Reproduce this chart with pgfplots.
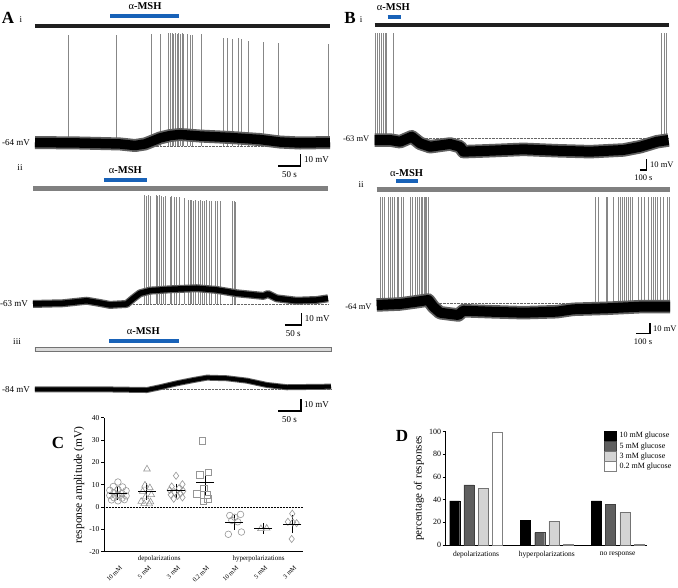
\documentclass[border=0pt]{standalone}
\usepackage{fontspec}
\setmainfont{Liberation Serif}
\usepackage{pgfplots}
\pgfplotsset{compat=1.18}
\definecolor{msh}{RGB}{24,98,184}
\definecolor{gbar}{RGB}{128,128,128}
\definecolor{lbar}{RGB}{217,217,217}
\definecolor{spk}{RGB}{135,135,135}
\definecolor{mk}{RGB}{150,150,150}
\definecolor{g5}{RGB}{95,95,95}
\definecolor{g3}{RGB}{212,212,212}
\newcommand{\fs}[1]{\fontsize{#1}{#1}\selectfont}

\pgfplotsset{
  trace/.style={scale only axis, hide axis, clip=false, anchor=south west},
  spike/.style={spk, line width=0.45pt},
  core/.style={black, line join=round},
  fringe/.style={black!62, line join=round},
  scalebar/.style={black, line width=1.1pt},
  mshbar/.style={msh, line width=4pt},
  dotbase/.style={black!60, densely dotted, line width=0.4pt},
}

% membrane potential traces: time (s), potential (mV)
\pgfplotstableread{
t V
0 -61.1
99 -61.5
187 -62.3
220 -63.6
242 -62.3
253 -60.7
275 -57.3
297 -55.3
319 -54.4
363 -55.7
429 -56.9
495 -58.6
539 -60.7
583 -61.5
649 -61.1
}\traceAi
\pgfplotstableread{
t V
0 -63
90 -62.4
161 -60.3
201 -62.2
231 -63.8
281 -63
301 -58.3
321 -54.1
351 -51.9
411 -50.8
491 -49.9
551 -51.3
611 -54.1
691 -56.3
705 -54.7
731 -58.3
791 -60.3
851 -59.7
885 -58.3
}\traceAii
\pgfplotstableread{
t V
0 -84
143 -84
246 -84.6
275 -82.3
312 -79
348 -76.3
378 -74.3
422 -74.8
466 -76.8
510 -80.4
554 -82.3
651 -81.8
}\traceAiii
\pgfplotstableread{
t V
0 -64.6
222 -64.6
365 -66.2
532 -61.5
651 -67.7
794 -70.9
1080 -68.3
1223 -70.9
1270 -75.5
1652 -74.6
2128 -73.3
2605 -74.6
3082 -75.5
3558 -73.9
3797 -70.9
4035 -66.2
4200 -64.6
}\traceBi
\pgfplotstableread{
t V
0 -65.7
166 -64.7
286 -62.4
368 -60.7
404 -67.4
452 -73.4
523 -74.7
583 -75.7
618 -71.4
809 -72.4
1047 -73.4
1285 -72.4
1404 -70
1642 -69
1880 -67.4
2094 -67.4
}\traceBii

\begin{document}
\begin{tikzpicture}
\useasboundingbox (0pt,0pt) rectangle (678pt,-588pt);

% panel letters
\node[font=\fs{17}\bfseries] at (8pt,-18pt) {A};
\node[font=\fs{9}] at (21pt,-20pt) {i};
\node[font=\fs{9}] at (20pt,-168pt) {ii};
\node[font=\fs{9}] at (17pt,-342pt) {iii};
\node[font=\fs{17}\bfseries] at (350pt,-18pt) {B};
\node[font=\fs{9}] at (361pt,-20pt) {i};
\node[font=\fs{9}] at (361pt,-185pt) {ii};
\node[font=\fs{17}\bfseries] at (58pt,-443pt) {C};
\node[font=\fs{17}\bfseries] at (402pt,-436pt) {D};

% ---------- A i ----------
\begin{axis}[trace, at={(35pt,-158pt)}, width=295pt, height=128pt,
  xmin=0, xmax=649, ymin=-74, ymax=32.7]
\addplot[black!88, line width=4pt] coordinates {(0,35.75) (649,35.75)};
\addplot[mshbar] coordinates {(165,44.3) (317,44.3)};
\node[font=\fs{10.5}] at (axis cs:242,52.7) {α\textbf{-MSH}};
\addplot[dotbase] coordinates {(250,-64) (649,-64)};
\addplot[spike, quiver={u=0, v=\thisrow{top}+64}] table[x=t, y expr=-64] {
t top
72 28.5
178 28.5
255 29.3
275 29.3
292 30.2
297 30.2
301 30.2
304 29.3
308 30.2
312 29.3
315 30.2
319 29.3
323 30.2
326 29.3
334 29.3
341 28.5
346 28.5
365 29.3
414 26
423 26
433 25.2
447 26
453 25.2
469 23.5
501 22.7
535 21.8
644 21
};
\addplot[fringe, line width=13pt] table {\traceAi};
\addplot[core, line width=9.5pt] table {\traceAi};
\addplot[scalebar] coordinates {(535,-80.7) (585,-80.7) (585,-70.7)};
\node[anchor=west, font=\fs{9}, inner sep=0pt, xshift=3pt] at (axis cs:585,-75.7) {10 mV};
\node[anchor=north, font=\fs{9}, inner sep=0pt, yshift=-5pt] at (axis cs:560,-80.7) {50 s};
\node[anchor=east, font=\fs{9}, inner sep=0pt, xshift=-5pt] at (axis cs:0,-61.5) {-64 mV};
\end{axis}

% ---------- A ii ----------
\begin{axis}[trace, at={(33pt,-312pt)}, width=295pt, height=120pt,
  xmin=0, xmax=885, ymin=-69.7, ymax=30.3]
\addplot[gbar, line width=4.3pt] coordinates {(0,33.25) (885,33.25)};
\addplot[mshbar] coordinates {(213,39.9) (341,39.9)};
\node[font=\fs{10.5}] at (axis cs:277,48.3) {α\textbf{-MSH}};
\addplot[dotbase] coordinates {(300,-63) (885,-63)};
\addplot[spike, quiver={u=0, v=\thisrow{top}+63}] table[x=t, y expr=-63] {
t top
334 27.5
339 27
346 27.5
353 27
369 27.5
374 27
379 27.5
384 27
391 26.5
396 27
411 26.5
416 27
423 26.5
431 26
438 26
453 25.5
467 23.7
471 23.7
476 23.7
481 23.2
488 23.7
496 23.2
503 23.7
509 23.2
514 23.2
521 23.7
528 22.8
536 22.8
546 22.8
553 22.8
563 22.8
599 22.8
603 22.8
608 22.3
};
\addplot[fringe, line width=8pt] table {\traceAii};
\addplot[core, line width=5.5pt] table {\traceAii};
\addplot[scalebar] coordinates {(756,-80.5) (806,-80.5) (806,-70.5)};
\node[anchor=west, font=\fs{9}, inner sep=0pt, xshift=3pt] at (axis cs:806,-75.5) {10 mV};
\node[anchor=north, font=\fs{9}, inner sep=0pt, yshift=-5pt] at (axis cs:781,-80.5) {50 s};
\node[anchor=east, font=\fs{9}, inner sep=0pt, xshift=-5pt] at (axis cs:0,-62.4) {-63 mV};
\end{axis}

% ---------- A iii ----------
\begin{axis}[trace, at={(35pt,-395pt)}, width=296pt, height=30pt,
  xmin=0, xmax=651, ymin=-88.75, ymax=-63.75]
\addplot[draw=black!55, fill=lbar, line width=0.6pt] coordinates {(0,-49.3) (651,-49.3) (651,-52.7) (0,-52.7) (0,-49.3)};
\addplot[mshbar] coordinates {(163,-43.75) (317,-43.75)};
\node[font=\fs{10.5}] at (axis cs:238,-35.4) {α\textbf{-MSH}};
\addplot[dotbase] coordinates {(275,-84) (651,-84)};
\addplot[fringe, line width=6pt] table {\traceAiii};
\addplot[core, line width=4pt] table {\traceAiii};
\addplot[scalebar] coordinates {(535,-102.1) (585,-102.1) (585,-92.1)};
\node[anchor=west, font=\fs{9}, inner sep=0pt, xshift=3pt] at (axis cs:585,-97.1) {10 mV};
\node[anchor=north, font=\fs{9}, inner sep=0pt, yshift=-5pt] at (axis cs:560,-102.1) {50 s};
\node[anchor=east, font=\fs{9}, inner sep=0pt, xshift=-5pt] at (axis cs:0,-84) {-84 mV};
\end{axis}

% ---------- B i ----------
\begin{axis}[trace, at={(374.5pt,-158pt)}, width=294pt, height=128pt,
  xmin=0, xmax=4200, ymin=-81.4, ymax=38.2]
\addplot[black!88, line width=4pt] coordinates {(0,42.6) (4200,42.6)};
\addplot[mshbar] coordinates {(189,50.6) (379,50.6)};
\node[font=\fs{10.5}] at (axis cs:269,59.4) {α\textbf{-MSH}};
\addplot[dotbase] coordinates {(532,-63) (4200,-63)};
\addplot[spike, quiver={u=0, v=101.4}] coordinates {
(17,-66) (46,-66) (64,-66) (89,-66) (126,-66) (150,-66) (174,-66) (269,-66)
(4103,-66) (4136,-66) (4174,-66)};
\addplot[fringe, line width=13.5pt] table {\traceBi};
\addplot[core, line width=10pt] table {\traceBi};
\addplot[scalebar] coordinates {(3792,-92.6) (3892,-92.6) (3892,-82.6)};
\node[anchor=west, font=\fs{8.5}, inner sep=0pt, xshift=3pt] at (axis cs:3892,-87.6) {10 mV};
\node[anchor=north, font=\fs{8.5}, inner sep=0pt, yshift=-5pt] at (axis cs:3842,-92.6) {100 s};
\node[anchor=east, font=\fs{8.5}, inner sep=0pt, xshift=-5pt] at (axis cs:0,-63) {-63 mV};
\end{axis}

% ---------- B ii ----------
\begin{axis}[trace, at={(376.7pt,-322pt)}, width=293.3pt, height=127pt,
  xmin=0, xmax=2094, ymin=-82.7, ymax=44.3]
\addplot[gbar, line width=4.3pt] coordinates {(0,49.8) (2094,49.8)};
\addplot[mshbar] coordinates {(138,58.3) (297,58.3)};
\node[font=\fs{10.5}] at (axis cs:214,66) {α\textbf{-MSH}};
\addplot[dotbase] coordinates {(400,-64) (1560,-64)};
\addplot[spike, quiver={u=0, v=108.8}] coordinates {
(24,-67) (40,-67) (54,-67) (79,-67) (95,-67) (111,-67) (126,-67) (143,-67)
(154,-67) (174,-67) (190,-67) (238,-67) (254,-67) (273,-67) (286,-67) (302,-67)
(316,-67) (326,-67) (336,-67) (345,-67) (357,-67) (368,-67)
(1559,-67) (1582,-67) (1642,-67) (1649,-67) (1689,-67) (1721,-67) (1737,-67)
(1754,-67) (1768,-67) (1785,-67) (1796,-67) (1809,-67) (1821,-67) (1864,-67)
(1887,-67) (1911,-67) (1935,-67) (1958,-67) (1975,-67) (1992,-67) (2006,-67)
(2023,-67) (2046,-67) (2071,-67) (2087,-67)};
\addplot[fringe, line width=13.5pt] table {\traceBii};
\addplot[core, line width=10pt] table {\traceBii};
\addplot[scalebar] coordinates {(1851,-94) (1951,-94) (1951,-84)};
\node[anchor=west, font=\fs{8.5}, inner sep=0pt, xshift=3pt] at (axis cs:1951,-89) {10 mV};
\node[anchor=north, font=\fs{8.5}, inner sep=0pt, yshift=-5pt] at (axis cs:1901,-94) {100 s};
\node[anchor=east, font=\fs{8.5}, inner sep=0pt, xshift=-5pt] at (axis cs:0,-67.4) {-64 mV};
\end{axis}

% ---------- C ----------
\begin{axis}[at={(104pt,-551.7pt)}, anchor=south west, scale only axis,
  width=199.3pt, height=134pt, clip=false,
  xmin=0.52, xmax=7.38, ymin=-20, ymax=40,
  axis x line*=bottom, axis y line*=left,
  axis line style={line width=0.7pt, -},
  ytick={-20,-10,0,10,20,30,40},
  xtick={1,2,3,4,5,6,7},
  xticklabels={10 mM,5 mM,3 mM,0.2 mM,10 mM,5 mM,3 mM},
  xtick style={draw=none},
  ytick style={line width=0.6pt, black},
  tick align=outside, major tick length=3pt,
  yticklabel style={font=\fs{7.5}, inner sep=1.5pt},
  xticklabel shift=11pt,
  xticklabel style={font=\fs{6.5}, rotate=45, anchor=north east, inner sep=0.5pt, xshift=2pt},
  ylabel={response amplitude (mV)}, ylabel style={font=\fs{11.5}},
  /pgf/number format/assume math mode=true,
]
\addplot[black, densely dotted, line width=0.5pt] coordinates {(0.52,0) (7.38,0)};
\addplot[only marks, mark=o, mark size=3.3pt, mk, mark options={line width=0.6pt}] coordinates {
(1.00,11.2) (0.84,9.2) (1.16,9.0) (0.72,7.5) (1.00,7.8) (1.28,7.3) (0.86,6.3) (1.14,6.1)
(0.72,5.2) (1.00,5.4) (1.28,5.0) (0.86,4.2) (1.14,4.0) (0.78,3.2) (1.22,3.3) (1.00,2.8)};
\addplot[only marks, mark=triangle, mark size=3.8pt, mk, mark options={line width=0.6pt}] coordinates {
(2.00,17.0) (1.93,9.8) (2.10,8.6) (1.85,7.0) (2.15,5.5) (1.95,4.5) (1.80,2.5) (2.12,2.3) (1.90,1.5) (2.08,1.4)};
\addplot[only marks, mark=diamond, mark size=3.6pt, mk, mark options={line width=0.6pt}] coordinates {
(3.00,14.0) (3.22,10.2) (2.85,9.2) (3.10,8.4) (2.78,7.6) (3.25,7.2) (2.95,6.6) (3.15,6.0)
(2.82,5.5) (3.05,5.0) (3.22,4.3) (2.92,3.7)};
\addplot[only marks, mark=square, mark size=3.2pt, mk, mark options={line width=0.6pt}] coordinates {
(3.90,29.6) (4.12,15.6) (3.82,14.5) (3.95,8.5) (3.72,6.0) (4.08,5.5) (4.09,3.7) (3.94,2.7)};
\addplot[only marks, mark=o, mark size=3.3pt, mk, mark options={line width=0.6pt}] coordinates {
(4.85,-3.8) (5.22,-3.3) (5.02,-4.6) (4.92,-6.0) (5.12,-6.6) (5.25,-11.2) (4.80,-12.2)};
\addplot[only marks, mark=triangle, mark size=3.8pt, mk, mark options={line width=0.6pt}] coordinates {
(5.92,-9.7) (6.12,-9.5)};
\addplot[only marks, mark=diamond, mark size=3.6pt, mk, mark options={line width=0.6pt}] coordinates {
(7.00,-3.0) (6.85,-6.6) (7.15,-7.2) (7.02,-6.9) (6.98,-14.3)};
% mean and SEM
\addplot[only marks, black, mark=-, mark size=9pt, mark options={line width=1pt},
  error bars/.cd, y dir=both, y explicit, error mark=-,
  error mark options={black, mark size=5pt, line width=1pt},
  error bar style={black, line width=1pt}]
  table[x=x, y=m, y error=e] {
x m e
1 6.2 0.6
2 6.8 1.6
3 7.3 0.8
4 10.8 3.3
5 -6.8 1.2
6 -9.6 0.15
7 -7.6 1.8
};
\node[font=\fs{7}, yshift=-7pt] at (axis cs:2.42,-20) {depolarizations};
\node[font=\fs{7}, yshift=-7pt] at (axis cs:5.84,-20) {hyperpolarizations};
\end{axis}

% ---------- D ----------
\begin{axis}[at={(445.7pt,-545pt)}, anchor=south west, scale only axis,
  width=201pt, height=113.3pt,
  ybar=4.2pt, bar width=10pt,
  xmin=-0.428, xmax=2.41, ymin=0, ymax=100,
  axis x line*=bottom, axis y line*=left,
  axis line style={line width=0.7pt, -},
  xtick={0,1,2}, xticklabels={depolarizations,hyperpolarizations,no response},
  xtick style={draw=none},
  ytick={0,20,40,60,80,100},
  ytick style={line width=0.6pt, black},
  tick align=outside, major tick length=3pt,
  xticklabel style={font=\fs{7.5}},
  yticklabel style={font=\fs{8}, inner sep=1.5pt},
  ylabel={percentage of responses}, ylabel style={font=\fs{11}},
  /pgf/number format/assume math mode=true,
  legend style={at={(0.787,1.01)}, anchor=north west, draw=none, fill=none,
    font=\fs{8}, row sep=0pt, column sep=2.5pt, inner sep=0pt, nodes={inner sep=0.6pt}},
  legend cell align=left,
  legend image code/.code={\draw[#1] (0pt,-4.7pt) rectangle (12pt,5pt);},
]
\addplot[fill=black, draw=black] coordinates {(0,39) (1,22) (2,39)};
\addlegendentry{10 mM glucose}
\addplot[fill=g5, draw=black!75] coordinates {(0,53) (1,11) (2,36)};
\addlegendentry{5 mM glucose}
\addplot[fill=g3, draw=black!55] coordinates {(0,50) (1,21) (2,29)};
\addlegendentry{3 mM glucose}
\addplot[fill=white, draw=black!50] coordinates {(0,100) (1,1) (2,1)};
\addlegendentry{0.2 mM glucose}
\end{axis}
\end{tikzpicture}
\end{document}
